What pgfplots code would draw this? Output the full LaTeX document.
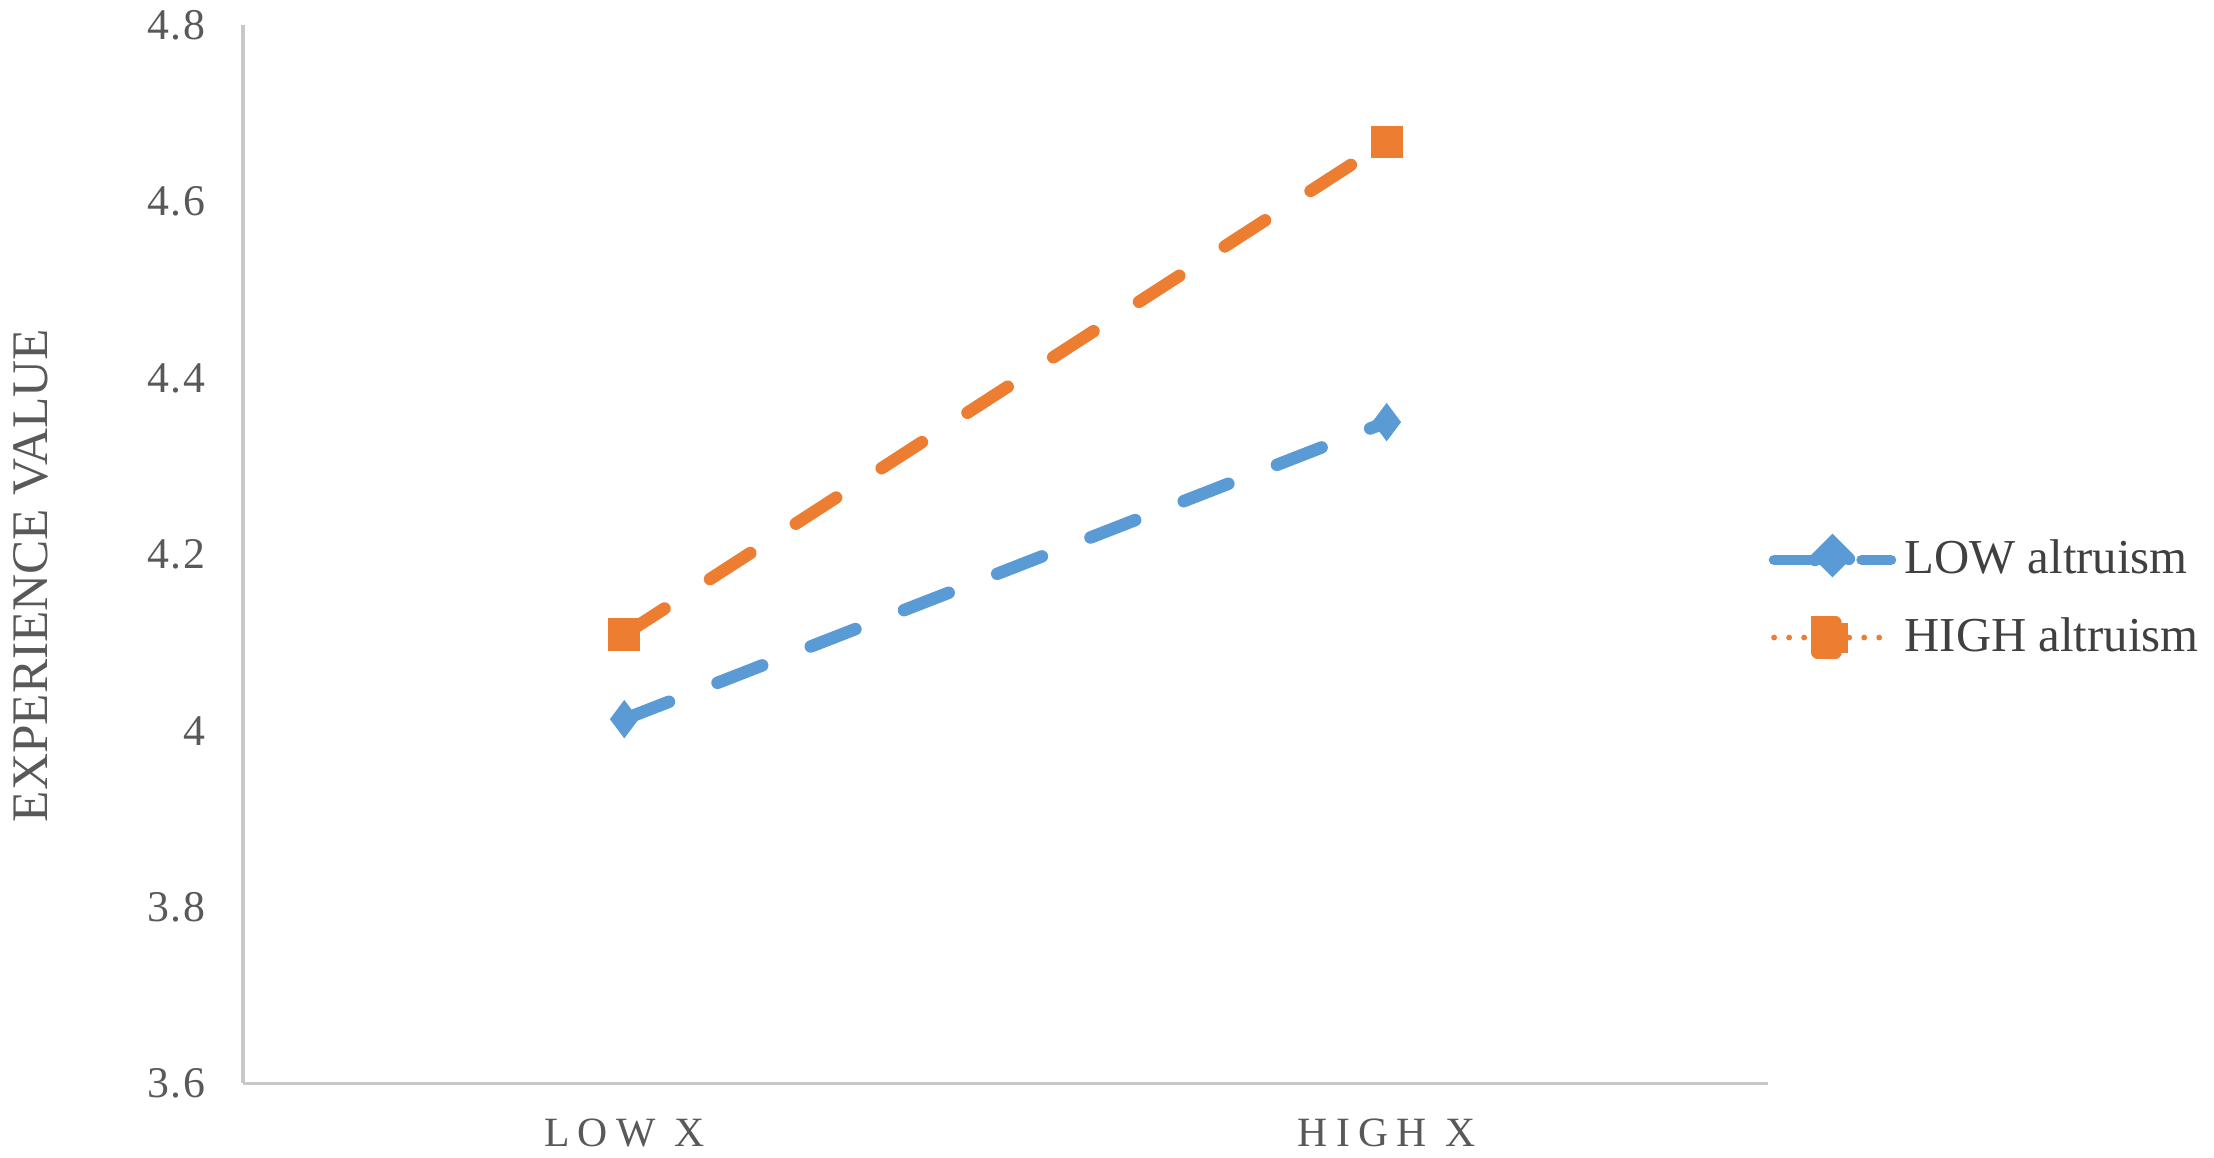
\documentclass[border=0pt]{standalone}
\usepackage{fontspec}
\setmainfont{Liberation Serif}
\usepackage{pgfplots}
\pgfplotsset{compat=1.18}

\definecolor{lowblue}{RGB}{91,155,213}
\definecolor{highorange}{RGB}{237,125,49}
\definecolor{axisgray}{RGB}{200,200,200}
\definecolor{textgray}{RGB}{89,89,89}

\begin{document}
\begin{tikzpicture}
\begin{axis}[
  name=ax,
  scale only axis,
  width=365.7pt, height=253.7pt,
  xmin=0, xmax=2, ymin=3.6, ymax=4.8,
  xtick={0.5,1.5},
  xticklabels={LOW X, HIGH X},
  ytick={3.6,3.8,4,4.2,4.4,4.6,4.8},
  /pgf/number format/assume math mode=true,
  major tick length=0pt,
  axis x line*=bottom, axis y line*=left,
  axis line style={axisgray, line width=0.8pt, -},
  yticklabel style={font=\fontsize{10.5}{12}\selectfont\addfontfeature{LetterSpace=4}, text=textgray, xshift=-5.5pt},
  xticklabel style={font=\fontsize{10}{12}\selectfont\addfontfeature{LetterSpace=20}, text=textgray, yshift=-5pt},
  every axis y label/.style={at={(rel axis cs:0,0.48)}, rotate=90, anchor=center, yshift=51pt},
  ylabel={EXPERIENCE VALUE},
  ylabel style={font=\fontsize{12.3}{14}\selectfont, text=textgray},
  legend style={at={(rel axis cs:1,0.458)}, anchor=west, draw=none, fill=none,
    font=\fontsize{11.7}{13}\selectfont, text=black!75, row sep=5pt, inner xsep=0pt},
  legend cell align=left,
]
\addplot+[lowblue, line width=3pt, dash pattern=on 11.5pt off 12.5pt, line cap=round,
  mark=diamond*, mark size=4.2pt, mark options={solid, line width=0.5pt, fill=lowblue, draw=lowblue},
  legend image code/.code={
    \draw[lowblue, line width=2.6pt, line cap=round] (0pt,0pt) -- (13pt,0pt);
    \draw[lowblue, line width=2.6pt, line cap=round] (21pt,0pt) -- (28pt,0pt);
    \fill[lowblue] (14pt,0pt) +(-4.2pt,0pt) -- +(0pt,4.2pt) -- +(4.2pt,0pt) -- +(0pt,-4.2pt) -- cycle;
  }]
  coordinates {(0.5,4.013) (1.5,4.350)};
\addlegendentry{LOW altruism}
\addplot+[highorange, line width=3pt, dash pattern=on 11.5pt off 13pt, line cap=round,
  mark=square*, mark size=3.6pt, mark options={solid, line width=0.5pt, fill=highorange, draw=highorange},
  legend image code/.code={
    \draw[highorange, line width=1.4pt, line cap=round, dash pattern=on 0pt off 3.6pt] (0pt,0pt) -- (28pt,0pt);
    \fill[highorange] (10.4pt,-3.6pt) rectangle (17.6pt,3.6pt);
  }]
  coordinates {(0.5,4.109) (1.5,4.668)};
\addlegendentry{HIGH altruism}
\end{axis}
\pgfresetboundingbox
\path[use as bounding box] ([shift={(-58.3pt,-17.7pt)}]ax.south west) rectangle ++(531pt,277.5pt);
\end{tikzpicture}
\end{document}
